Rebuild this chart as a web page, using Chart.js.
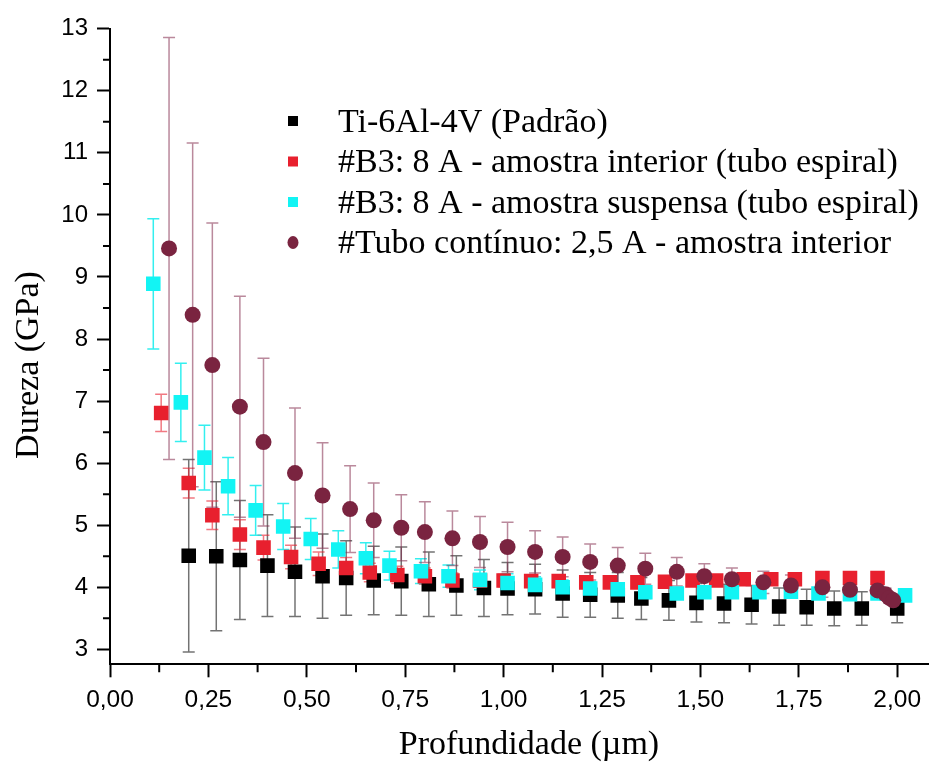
<!DOCTYPE html>
<html>
<head>
<meta charset="utf-8">
<script src="https://cdn.jsdelivr.net/npm/chart.js@4.4.1/dist/chart.umd.min.js"></script>
<style>
  html, body { margin: 0; padding: 0; background: #ffffff; }
  #wrap { width: 939px; height: 763px; }
</style>
</head>
<body>
<div id="wrap"><canvas id="c" width="939" height="763"></canvas></div>
<script>
// ---- data ----
const seriesNames = [
  "Ti-6Al-4V (Padrão)",
  "#B3: 8 A - amostra interior (tubo espiral)",
  "#B3: 8 A - amostra suspensa (tubo espiral)",
  "#Tubo contínuo: 2,5 A - amostra interior"
];

const padraoX = [0.20,0.27,0.33,0.40,0.47,0.54,0.60,0.67,0.74,0.81,0.88,0.95,1.01,1.08,1.15,1.22,1.29,1.35,1.42,1.49,1.56,1.63,1.70,1.77,1.84,1.91,2.00];
const padraoY = [4.51,4.50,4.44,4.35,4.25,4.18,4.15,4.11,4.10,4.05,4.03,3.99,3.98,3.97,3.90,3.88,3.87,3.82,3.79,3.75,3.74,3.72,3.69,3.68,3.66,3.66,3.66];
const padraoErr = [1.55,1.20,0.96,0.82,0.72,0.68,0.60,0.55,0.55,0.52,0.48,0.46,0.42,0.40,0.38,0.36,0.37,0.34,0.32,0.31,0.31,0.31,0.30,0.29,0.28,0.27,0.23];

const interiorX = [0.13,0.20,0.26,0.33,0.39,0.46,0.53,0.60,0.66,0.73,0.80,0.87,0.94,1.00,1.07,1.14,1.21,1.27,1.34,1.41,1.48,1.54,1.61,1.68,1.74,1.81,1.88,1.95];
const interiorY = [6.81,5.68,5.16,4.85,4.64,4.49,4.38,4.31,4.24,4.20,4.18,4.11,4.11,4.11,4.10,4.10,4.08,4.08,4.08,4.09,4.11,4.11,4.13,4.13,4.13,4.15,4.15,4.15];
const interiorErr = [0.30,0.24,0.23,0.24,0.20,0.19,0.19,0.17,0.15,0.14,0.13,0.12,0.11,0.10,0.10,0.09,0.09,0.08,0.08,0.08,0.07,0.07,0.07,0.07,0.06,0.06,0.06,0.06];

const suspensaX = [0.11,0.18,0.24,0.30,0.37,0.44,0.51,0.58,0.65,0.71,0.79,0.86,0.94,1.01,1.08,1.15,1.22,1.29,1.36,1.44,1.51,1.58,1.65,1.73,1.80,1.88,1.95,2.02];
const suspensaY = [8.89,6.98,6.09,5.63,5.24,4.98,4.78,4.61,4.47,4.35,4.26,4.18,4.12,4.07,4.04,4.00,3.98,3.97,3.92,3.90,3.92,3.92,3.92,3.93,3.90,3.89,3.90,3.87];
const suspensaErr = [1.05,0.63,0.52,0.46,0.40,0.37,0.33,0.30,0.25,0.23,0.20,0.18,0.16,0.15,0.13,0.12,0.11,0.10,0.10,0.09,0.09,0.08,0.08,0.08,0.07,0.07,0.07,0.06];

const tuboX = [0.15,0.21,0.26,0.33,0.39,0.47,0.54,0.61,0.67,0.74,0.80,0.87,0.94,1.01,1.08,1.15,1.22,1.29,1.36,1.44,1.51,1.58,1.66,1.73,1.81,1.88,1.95,1.97,1.98,1.99];
const tuboY = [9.46,8.39,7.58,6.91,6.34,5.84,5.48,5.26,5.08,4.96,4.89,4.79,4.73,4.65,4.57,4.49,4.41,4.35,4.30,4.25,4.18,4.13,4.08,4.03,4.00,3.96,3.95,3.89,3.83,3.79];
const tuboErr = [3.40,2.77,2.29,1.78,1.35,1.05,0.85,0.70,0.60,0.53,0.49,0.44,0.41,0.40,0.34,0.32,0.29,0.29,0.25,0.23,0.20,0.18,0.18,0.17,0.16,0.16,0.12,0.10,0.08,0.06];

const xTicks = [0, 0.25, 0.5, 0.75, 1.0, 1.25, 1.5, 1.75, 2.0];
const yTicks = [3, 4, 5, 6, 7, 8, 9, 10, 11, 12, 13];
const xTitle = "Profundidade (\u00b5m)";
const yTitle = "Dureza (GPa)";

// ---- styles ----
const markerColors = ["#000000", "#e8202e", "#12f4f4", "#7a2440"];
const errColors = ["rgba(0,0,0,0.55)", "rgba(232,32,46,0.6)", "rgba(0,235,235,0.8)", "rgba(130,40,75,0.55)"];
const pointStyles = ["rect", "rect", "rect", "circle"];
const pointRadii = [10.3, 10.3, 10.3, 8];

const xs = [padraoX, interiorX, suspensaX, tuboX];
const ys = [padraoY, interiorY, suspensaY, tuboY];
const errs = [padraoErr, interiorErr, suspensaErr, tuboErr];

const datasets = seriesNames.map((name, i) => ({
  label: name,
  data: xs[i].map((x, j) => ({ x: x, y: ys[i][j] })),
  errors: errs[i],
  errColor: errColors[i],
  showLine: false,
  pointStyle: pointStyles[i],
  pointRadius: pointRadii[i],
  pointHoverRadius: pointRadii[i],
  backgroundColor: markerColors[i],
  borderColor: markerColors[i],
  borderWidth: 0,
  order: 4 - i
}));

const SERIF = "'Liberation Serif', 'Times New Roman', serif";
const SANS = "'Liberation Sans', Arial, sans-serif";

const bgPlugin = {
  id: 'bg',
  beforeDraw(chart) {
    const ctx = chart.ctx;
    ctx.save();
    ctx.fillStyle = '#ffffff';
    ctx.fillRect(0, 0, chart.width, chart.height);
    ctx.restore();
  }
};

const errorBarPlugin = {
  id: 'errorBars',
  beforeDatasetsDraw(chart) {
    const ctx = chart.ctx;
    const xs_ = chart.scales.x, ys_ = chart.scales.y;
    ctx.save();
    chart.data.datasets.forEach((ds) => {
      ctx.strokeStyle = ds.errColor;
      ctx.lineWidth = 1.5;
      ds.data.forEach((p, j) => {
        const e = ds.errors[j];
        const px = xs_.getPixelForValue(p.x);
        const top = ys_.getPixelForValue(p.y + e);
        const bot = ys_.getPixelForValue(p.y - e);
        ctx.beginPath();
        ctx.moveTo(px, top); ctx.lineTo(px, bot);
        ctx.moveTo(px - 6, top); ctx.lineTo(px + 6, top);
        ctx.moveTo(px - 6, bot); ctx.lineTo(px + 6, bot);
        ctx.stroke();
      });
    });
    ctx.restore();
  }
};

const decorPlugin = {
  id: 'decor',
  afterDraw(chart) {
    const ctx = chart.ctx;
    const sx = chart.scales.x, sy = chart.scales.y;
    const area = chart.chartArea;
    ctx.save();
    // minor ticks
    ctx.strokeStyle = '#000';
    ctx.lineWidth = 2;
    ctx.beginPath();
    for (let i = 0; i < xTicks.length; i++) {
      const v = xTicks[i] + 0.125;
      if (v > sx.max) break;
      const px = sx.getPixelForValue(v);
      ctx.moveTo(px, area.bottom); ctx.lineTo(px, area.bottom + 8);
    }
    for (let i = 0; i < yTicks.length - 1; i++) {
      const py = sy.getPixelForValue(yTicks[i] + 0.5);
      ctx.moveTo(area.left, py); ctx.lineTo(area.left - 7, py);
    }
    ctx.stroke();

    // axis titles
    ctx.fillStyle = '#000';
    ctx.font = "34px " + SERIF;
    ctx.textAlign = 'center';
    ctx.textBaseline = 'middle';
    ctx.fillText(xTitle, 529, 745);
    ctx.save();
    ctx.translate(29, 365);
    ctx.rotate(-Math.PI / 2);
    ctx.fillText(yTitle, 0, 0);
    ctx.restore();

    // legend
    ctx.textAlign = 'left';
    ctx.textBaseline = 'middle';
    const legX = 293, textX = 338, legY0 = 121, legDY = 40.5;
    chart.data.datasets.forEach((ds, i) => {
      const y = legY0 + i * legDY;
      ctx.fillStyle = ds.backgroundColor;
      if (ds.pointStyle === 'circle') {
        ctx.beginPath();
        ctx.ellipse(legX, y, 5.5, 6.5, 0, 0, Math.PI * 2);
        ctx.fill();
      } else {
        ctx.fillRect(legX - 5, y - 5, 10, 10);
      }
      ctx.fillStyle = '#000';
      ctx.fillText(ds.label, textX, y + 2);
    });
    ctx.restore();
  }
};

new Chart(document.getElementById('c'), {
  type: 'scatter',
  data: { datasets: datasets },
  options: {
    responsive: false,
    devicePixelRatio: 1,
    animation: false,
    events: [],
    layout: { padding: { top: 28.7, right: 1, left: 0, bottom: 0 } },
    plugins: { legend: { display: false }, tooltip: { enabled: false } },
    scales: {
      x: {
        type: 'linear',
        min: 0, max: 2.08,
        afterBuildTicks: (s) => { s.ticks = xTicks.map(v => ({ value: v })); },
        afterFit: (s) => { s.height = 98.7; },
        ticks: {
          callback: (v) => Number(v).toFixed(2).replace('.', ','),
          font: { family: SANS, size: 24.5 },
          color: '#000',
          padding: 8,
          maxRotation: 0,
          autoSkip: false
        },
        grid: { drawOnChartArea: false, drawTicks: true, tickLength: 13, tickWidth: 2, tickColor: '#000' },
        border: { display: true, color: '#000', width: 2 }
      },
      y: {
        type: 'linear',
        min: 2.76, max: 13,
        afterBuildTicks: (s) => { s.ticks = yTicks.map(v => ({ value: v })); },
        afterFit: (s) => { s.width = 110; },
        ticks: {
          callback: (v) => String(v),
          font: { family: SANS, size: 24 },
          color: '#000',
          padding: 9,
          autoSkip: false
        },
        grid: { drawOnChartArea: false, drawTicks: true, tickLength: 13, tickWidth: 2, tickColor: '#000' },
        border: { display: true, color: '#000', width: 2 }
      }
    }
  },
  plugins: [bgPlugin, errorBarPlugin, decorPlugin]
});
</script>
</body>
</html>
